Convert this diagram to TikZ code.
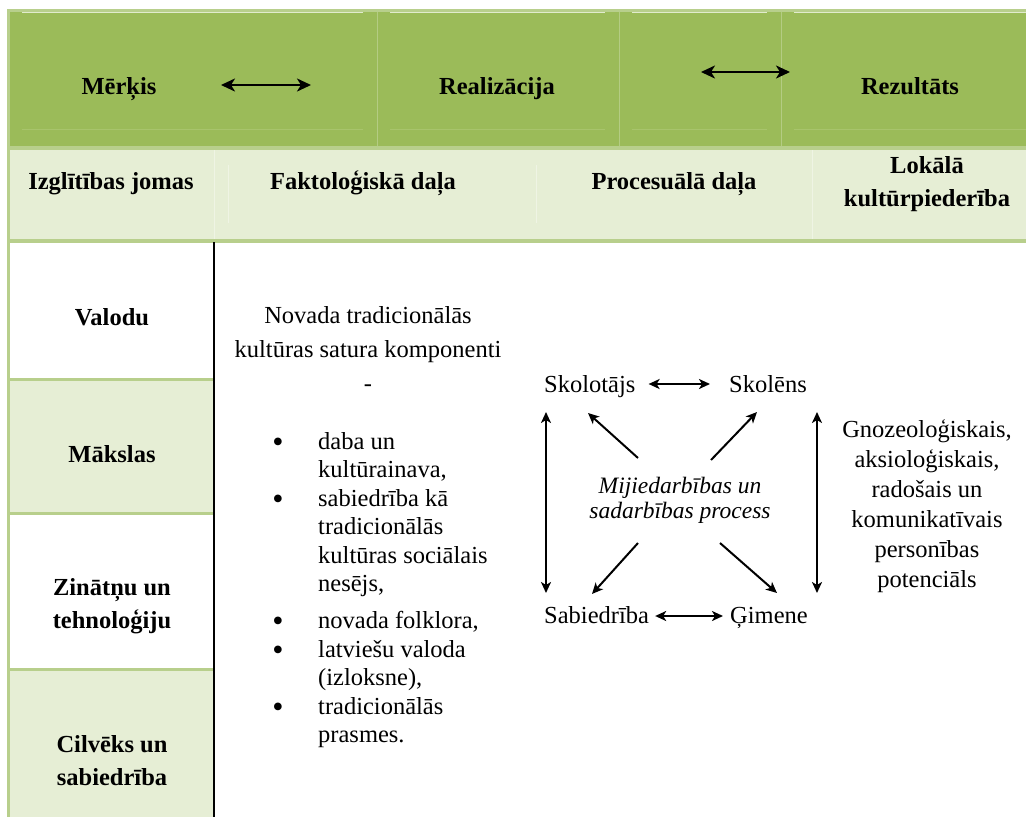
\documentclass[tikz,border=0pt]{standalone}
\usepackage{fontspec}
\setmainfont{Liberation Serif}
\usetikzlibrary{arrows.meta}
\definecolor{hdark}{HTML}{9BBB59}
\definecolor{hlight}{HTML}{E6EED5}
\definecolor{rulegreen}{HTML}{B8CF8C}
\definecolor{hfaint}{HTML}{A8C46C}
\definecolor{lfaint}{HTML}{EFF4E4}
% stacked lines whose reference point is the baseline of the first line
\newcommand{\mlines}[2][c]{\begin{tabular}[t]{@{}#1@{}}#2\end{tabular}}
\begin{document}
\begin{tikzpicture}[x=1pt,y=-1pt,
  head/.style={font=\fontsize{24.5}{33}\selectfont\bfseries, inner sep=0pt, anchor=base},
  plain/.style={font=\fontsize{24.5}{34}\selectfont, inner sep=0pt, anchor=base},
  listtext/.style={font=\fontsize{24.5}{28.5}\selectfont, inner sep=0pt, anchor=base west},
  bul/.style={font=\fontsize{32}{32}\selectfont, inner sep=0pt, anchor=base, text height=6pt, text depth=0pt},
  rightlist/.style={font=\fontsize{24.5}{30}\selectfont, inner sep=0pt, anchor=base},
  proc/.style={font=\fontsize{23.5}{25}\selectfont\itshape, inner sep=0pt, anchor=base},
  role/.style={font=\fontsize{24.5}{30}\selectfont, inner sep=0pt, anchor=base west},
  dbl/.style={{Stealth[length=14pt,width=13pt,inset=4pt]}-{Stealth[length=14pt,width=13pt,inset=4pt]}, line width=2.3pt},
  dblsm/.style={{Stealth[length=11pt,width=10pt,inset=3pt]}-{Stealth[length=11pt,width=10pt,inset=3pt]}, line width=2pt},
  one/.style={-{Stealth[length=11pt,width=10pt,inset=3pt]}, line width=2pt}
]
\useasboundingbox (0,0) rectangle (1026,817);
\fill[white] (0,0) rectangle (1026,817);

% ---- table frame and bands ----
\fill[rulegreen] (7,9) rectangle (1026,12);
\fill[rulegreen] (7,9) rectangle (10,817);
\fill[hdark] (10,12) rectangle (1026,146);
\fill[rulegreen] (10,146) rectangle (1026,150);
\fill[hlight] (10,150) rectangle (1026,239);
\fill[rulegreen] (10,239) rectangle (1026,243);

% faint cell outlines inside the header band
\foreach \a/\b in {22/363, 390/605, 632/767, 794/1026}{
  \draw[white!70!hdark, line width=0.8pt] (\a,12.6) -- (\b,12.6);
  \draw[hfaint, line width=0.5pt] (\a,129) -- (\b,129);
}
\foreach \x in {377, 619, 781}{
  \draw[white!25!hdark, line width=0.7pt] (\x,12) -- (\x,146);
}
\foreach \x in {214, 812}{
  \draw[lfaint, line width=0.8pt] (\x,150) -- (\x,239);
}
\foreach \x in {228, 536}{
  \draw[lfaint, line width=0.8pt] (\x,165) -- (\x,223);
}

% ---- left column ----
\fill[hlight] (10,381) rectangle (213,512);
\fill[hlight] (10,671) rectangle (213,817);
\fill[rulegreen] (10,378) rectangle (213,381);
\fill[rulegreen] (10,512) rectangle (213,515);
\fill[rulegreen] (10,668) rectangle (213,671);
\fill[black] (213,242) rectangle (215,817);

% ---- header texts ----
\node[head] (merkis) at (119,94) {Mērķis};
\node[head] (realiz) at (497,94) {Realizācija};
\node[head] (rezult) at (910,94) {Rezultāts};
\coordinate (ha1) at (221,85);
\coordinate (ha2) at (311,85);
\coordinate (hb1) at (701,72);
\coordinate (hb2) at (790,72);
\draw[dbl] (ha1) -- (ha2);
\draw[dbl] (hb1) -- (hb2);

\node[head] (jomas) at (111,189) {Izglītības jomas};
\node[head] (fakt) at (363,189) {Faktoloģiskā daļa};
\node[head] (proces) at (674,189) {Procesuālā daļa};
\node[head] (lokala) at (927,173) {\mlines{Lokālā\\kultūrpiederība}};

% ---- education areas ----
\node[head] (valodu) at (112,325) {Valodu};
\node[head] (makslas) at (112,462) {Mākslas};
\node[head] (zinatnu) at (112,595) {\mlines{Zinātņu un\\tehnoloģiju}};
\node[head] (cilveks) at (112,752) {\mlines{Cilvēks un\\sabiedrība}};

% ---- factual part ----
\node[plain] (saturs) at (368,323) {\mlines{Novada tradicionālās\\kultūras satura komponenti\\-}};
\node[bul] (b1) at (278,452) {•};
\node[listtext] (l1) at (318,449) {\mlines[l]{daba un\\kultūrainava,}};
\node[bul] (b2) at (278,509) {•};
\node[listtext] (l2) at (318,506) {\mlines[l]{sabiedrība kā\\tradicionālās\\kultūras sociālais\\nesējs,}};
\node[bul] (b3) at (278,631) {•};
\node[listtext] (l3) at (318,628) {novada folklora,};
\node[bul] (b4) at (278,660) {•};
\node[listtext] (l4) at (318,657) {\mlines[l]{latviešu valoda\\(izloksne),}};
\node[bul] (b5) at (278,717) {•};
\node[listtext] (l5) at (318,714) {\mlines[l]{tradicionālās\\prasmes.}};

% ---- process diagram ----
\node[role] (skolotajs) at (544,392) {Skolotājs};
\node[role] (skolens) at (729,392) {Skolēns};
\node[role] (sabiedriba) at (544,623) {Sabiedrība};
\node[role] (gimene) at (730,623) {Ģimene};
\node[proc] (process) at (680,493) {\mlines{Mijiedarbības un\\sadarbības process}};

\draw[dblsm, shorten <=13pt, shorten >=19pt] (skolotajs.east |- 0,384) -- (skolens.west |- 0,384);
\draw[dblsm, shorten <=6pt, shorten >=7pt] (sabiedriba.east |- 0,616) -- (gimene.west |- 0,616);

\coordinate (vl1) at (546,412);
\coordinate (vl2) at (546,593);
\coordinate (vr1) at (817,412);
\coordinate (vr2) at (817,593);
\draw[dblsm] (vl1) -- (vl2);
\draw[dblsm] (vr1) -- (vr2);

\coordinate (p-tl) at (638,458);
\coordinate (p-tr) at (711,460);
\coordinate (p-bl) at (638,543);
\coordinate (p-br) at (720,543);
\coordinate (t-tl) at (588,413);
\coordinate (t-tr) at (757,412);
\coordinate (t-bl) at (592,594);
\coordinate (t-br) at (777,593);
\draw[one] (p-tl) -- (t-tl);
\draw[one] (p-tr) -- (t-tr);
\draw[one] (p-bl) -- (t-bl);
\draw[one] (p-br) -- (t-br);

% ---- result ----
\node[rightlist] (potencials) at (927,437) {\mlines{Gnozeoloģiskais,\\aksioloģiskais,\\radošais un\\komunikatīvais\\personības\\potenciāls}};
\end{tikzpicture}
\end{document}
